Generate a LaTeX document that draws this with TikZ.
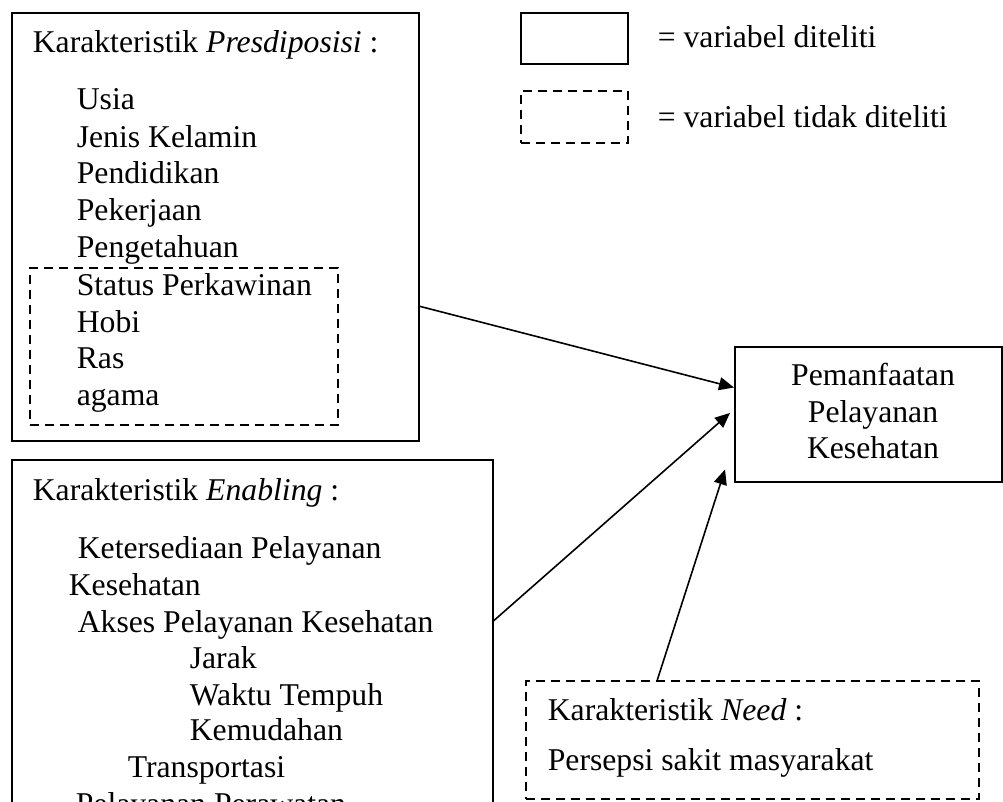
\documentclass[tikz,border=0pt]{standalone}
\usepackage{fontspec}
\setmainfont{Liberation Serif}
\usetikzlibrary{arrows.meta,calc}

\tikzset{every picture/.style={line width=1.6pt}}
\tikzset{
  box/.style={draw, rectangle, inner sep=0pt, anchor=north west},
  dbox/.style={box, dash pattern={on 9pt off 6pt}},
  txt/.style={anchor=base west, inner sep=0pt, font=\fontsize{31.7}{38}\selectfont},
  ctxt/.style={txt, anchor=base},
  arr/.style={-{Triangle[length=15pt,width=13pt]}},
}

\begin{document}
\begin{tikzpicture}[x=1pt,y=1pt,yscale=-1]
\clip (0,0) rectangle (1003,802);

%Box: Presdiposisi
\node[box, minimum width=407pt, minimum height=428pt] (pres) at (11,12) {};
%Box: not examined part of Presdiposisi
\node[dbox, minimum width=308pt, minimum height=157pt] (presx) at (29,267) {};
%Box: Enabling
\node[box, minimum width=481pt, minimum height=380pt] (enab) at (11,459) {};
%Box: Need
\node[dbox, minimum width=453pt, minimum height=118pt] (need) at (525,680) {};
%Box: outcome
\node[box, minimum width=267pt, minimum height=135pt] (outc) at (734,346) {};
%Legend boxes
\node[box, minimum width=107pt, minimum height=51pt] (legA) at (520,12) {};
\node[dbox, minimum width=107pt, minimum height=52pt] (legB) at (520,90) {};

%Arrows
\draw[arr] ($(pres.north east)!0.685!(pres.south east)$) -- ($(outc.north west)!0.304!(outc.south west)$);
\draw[arr] ($(enab.north east)!0.424!(enab.south east)$) -- ($(outc.north west)!0.49!(outc.south west)+(-4,0)$);
\draw[arr] ($(need.north west)!0.291!(need.north east)$) -- ($(outc.north west)!0.904!(outc.south west)+(-9,0)$);

% Text Node
\node[txt] (presT) at (32,53) {Karakteristik \textit{Presdiposisi} :};
\node[txt] (usia) at (76,110) {Usia};
\node[txt] (jenis) at (76,148) {Jenis Kelamin};
\node[txt] (didik) at (76,184) {Pendidikan};
\node[txt] (kerja) at (76,221) {Pekerjaan};
\node[txt] (tahu) at (76,258) {Pengetahuan};
\node[txt] (status) at (76,295) {Status Perkawinan};
\node[txt] (hobi) at (76,332) {Hobi};
\node[txt] (ras) at (76,368) {Ras};
\node[txt] (agama) at (76,405) {agama};

% Text Node
\node[txt] (enabT) at (32,500) {Karakteristik \textit{Enabling} :};
\node[txt] (sedia) at (77,558) {Ketersediaan Pelayanan};
\node[txt] (sedia2) at (68,595) {Kesehatan};
\node[txt] (akses) at (77,632) {Akses Pelayanan Kesehatan};
\node[txt] (jarak) at (189,668) {Jarak};
\node[txt] (waktu) at (189,705) {Waktu Tempuh};
\node[txt] (mudah) at (189,740) {Kemudahan};
\node[txt] (trans) at (127,777) {Transportasi};
\node[txt] (yan) at (75,814) {Pelayanan Perawatan};

% Text Node
\node[txt] (needT) at (547,720) {Karakteristik \textit{Need} :};
\node[txt] (sakit) at (547,770) {Persepsi sakit masyarakat};

% Text Node
\node[ctxt] (outc1) at (873,385) {Pemanfaatan};
\node[ctxt] (outc2) at (873,422) {Pelayanan};
\node[ctxt] (outc3) at (873,458) {Kesehatan};

% Legend text
\node[txt] (legAT) at (657,48) {= variabel diteliti};
\node[txt] (legBT) at (657,128) {= variabel tidak diteliti};

\end{tikzpicture}
\end{document}
